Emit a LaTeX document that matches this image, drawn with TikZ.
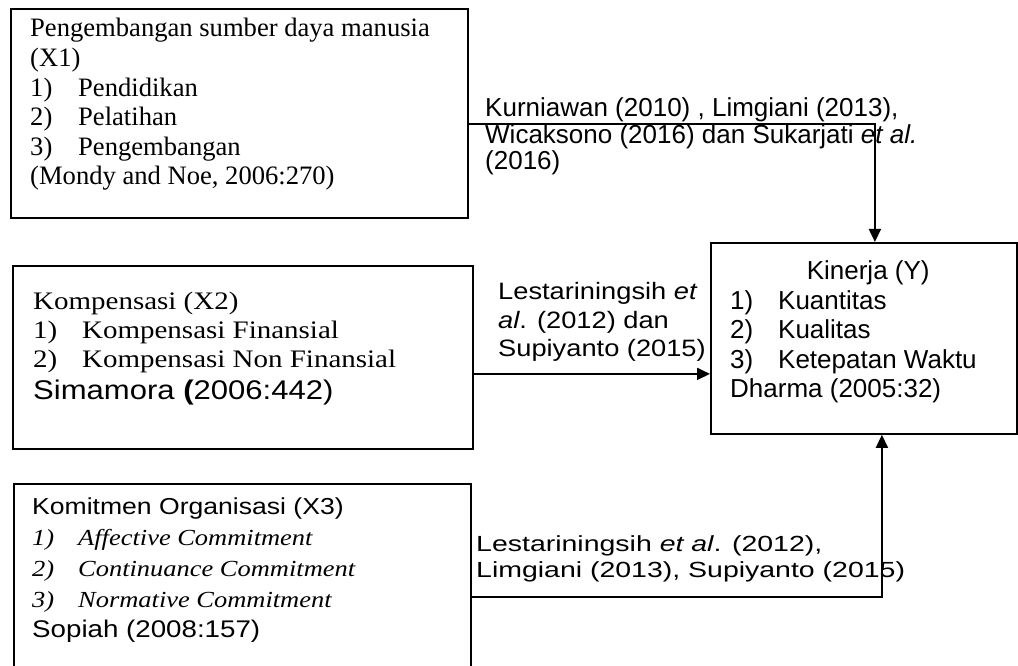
\documentclass[tikz,border=0pt]{standalone}
\usepackage{fontspec}
\setmainfont{Liberation Serif}
\setsansfont{Liberation Sans}
\newfontfamily\sansA[FakeStretch=1.15]{Liberation Sans}
\newfontfamily\serifA[FakeStretch=1.15]{Liberation Serif}
\newfontfamily\sansB[FakeStretch=1.3]{Liberation Sans}
\usetikzlibrary{arrows.meta, positioning}

\begin{document}
\begin{tikzpicture}[
    x=1pt, y=1pt,
    box/.style={rectangle, draw=black, line width=1.8pt, anchor=north west, inner sep=0pt},
    txt/.style={anchor=base west, align=left, inner sep=0pt},
    arrow/.style={-{Triangle[length=13pt, width=12pt]}, line width=1.8pt}
]
\useasboundingbox (0,0) rectangle (1018,666);

% boxes
\node[box, minimum width=457pt, minimum height=209pt] (sdm) at (10,658) {};
\node[box, minimum width=460pt, minimum height=183pt] (komp) at (12,401) {};
\node[box, minimum width=457pt, minimum height=215pt] (komit) at (13,183) {};
\node[box, minimum width=306pt, minimum height=191pt] (kin) at (710,424) {};

% box texts (placed by their last line)
\node[txt, font={\fontsize{26.6}{29.6}\selectfont}] (sdm-txt) at ([shift={(20,-177)}]sdm.north west)
    {Pengembangan sumber daya manusia\\(X1)\\
     \makebox[48pt][l]{1)}Pendidikan\\
     \makebox[48pt][l]{2)}Pelatihan\\
     \makebox[48pt][l]{3)}Pengembangan\\
     (Mondy and Noe, 2006:270)};
\node[txt, font={\serifA\fontsize{25.2}{29}\selectfont}] (komp-txt) at ([shift={(21,-135)}]komp.north west)
    {Kompensasi (X2)\\
     \makebox[49pt][l]{1)}Kompensasi Finansial\\
     \makebox[49pt][l]{2)}Kompensasi Non Finansial\\[3pt]
     {\sansA\fontsize{27}{29}\selectfont Simamora \textbf{(}2006:442)}};
\node[txt, font={\sansA\fontsize{23.1}{30.75}\selectfont}] (komit-txt) at ([shift={(19,-155)}]komit.north west)
    {Komitmen Organisasi (X3)\\
     {\serifA\itshape\fontsize{23}{30.75}\selectfont\makebox[46pt][l]{1)}Affective Commitment}\\
     {\serifA\itshape\fontsize{23}{30.75}\selectfont\makebox[46pt][l]{2)}Continuance Commitment}\\
     {\serifA\itshape\fontsize{23}{30.75}\selectfont\makebox[46pt][l]{3)}Normative Commitment}\\
     {\fontsize{24.1}{30.75}\selectfont Sopiah (2008:157)}};
\node[txt, font={\sffamily\fontsize{26}{29.5}\selectfont}] (kin-txt) at ([shift={(20,-156)}]kin.north west)
    {\makebox[276pt]{Kinerja (Y)}\\
     \makebox[48pt][l]{1)}Kuantitas\\
     \makebox[48pt][l]{2)}Kualitas\\
     \makebox[48pt][l]{3)}Ketepatan Waktu\\
     Dharma (2005:32)};

% connector labels
\node[txt, font={\sffamily\fontsize{26}{26.5}\selectfont}] (lbl-sdm) at (485,496)
    {Kurniawan (2010) , Limgiani (2013),\\
     Wicaksono (2016) dan Sukarjati \textit{et al.}\\
     (2016)};
\node[txt, font={\sansA\fontsize{23.7}{28.5}\selectfont}] (lbl-komp) at (498,309)
    {Lestariningsih \textit{et}\\
     \textit{al}. (2012) dan\\
     Supiyanto (2015)};
\node[txt, font={\sansB\fontsize{21.9}{26}\selectfont}] (lbl-komit) at (476,88)
    {Lestariningsih \textit{et al}. (2012),\\
     Limgiani (2013), Supiyanto (2015)};

% connectors
\draw[arrow] ([yshift=-10.5pt]sdm.east) -| ([xshift=11pt]kin.north);
\draw[arrow] ([yshift=-16.5pt]komp.east) -- ([yshift=-16.5pt]komp.east -| kin.west);
\draw[arrow] ([yshift=-114pt]komit.north east) -| ([xshift=18pt]kin.south);
\end{tikzpicture}
\end{document}
